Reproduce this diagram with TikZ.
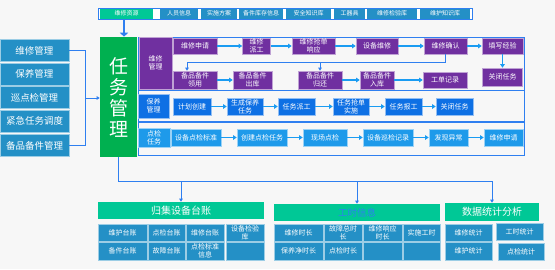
\documentclass[tikz,border=0pt]{standalone}
\usepackage{fontspec}
\setmainfont{Noto Sans CJK SC}
\usetikzlibrary{arrows.meta}

\definecolor{wxpurple}{HTML}{7030A0}
\definecolor{rwgreen}{HTML}{00B050}
\definecolor{hdgreen}{HTML}{00C896}
\definecolor{tzblue}{HTML}{2490C6}
\definecolor{byblue}{HTML}{0E70E4}
\definecolor{djblue}{HTML}{1E9AEA}
\definecolor{lnblue}{HTML}{2F7FF0}
\definecolor{flblue}{HTML}{1A9CF2}
\definecolor{bggray}{HTML}{F7F7F7}

\begin{document}
\begin{tikzpicture}[
    x=1pt, y=-1pt,
    cell/.style={rectangle, inner sep=0pt, align=center, text=white, line width=0.6pt},
    tab/.style={cell, fill=tzblue, minimum height=10pt, font=\fontsize{6}{7}\selectfont},
    sidebox/.style={cell, fill=tzblue, draw=white!55!tzblue, minimum width=69pt, minimum height=22pt, font=\fontsize{9.5}{11}\selectfont},
    mainbox/.style={cell, fill=rwgreen, minimum width=37pt, minimum height=120pt, font=\fontsize{19}{21}\selectfont},
    wxbox/.style={cell, fill=wxpurple, draw=white!55!wxpurple, font=\fontsize{7}{8}\selectfont},
    bybox/.style={cell, fill=byblue, draw=white!55!byblue, minimum height=17pt, font=\fontsize{7}{8}\selectfont},
    djbox/.style={cell, fill=djblue, draw=white!55!djblue, minimum height=17pt, font=\fontsize{7}{8}\selectfont},
    tzbox/.style={cell, fill=tzblue, draw=white!55!tzblue, font=\fontsize{7}{8}\selectfont},
    header/.style={cell, fill=hdgreen, font=\fontsize{10}{11}\selectfont},
    frame/.style={draw=lnblue, line width=0.9pt},
    flow/.style={-{Triangle[length=3.5pt,width=4.5pt]}, line width=1.6pt, draw=flblue},
    link/.style={-{Triangle[length=3pt,width=3.5pt]}, line width=0.8pt, draw=lnblue},
    line/.style={line width=0.8pt, draw=lnblue}
]
    \useasboundingbox[fill=bggray] (0,0) rectangle (555,269);

    % top resource bar
    \draw[frame, fill=white] (98,8) rectangle (472,19);
    \node[tab, fill=hdgreen, minimum width=53pt] (t1) at (126.5,13.5) {维修资源};
    \node[tab, minimum width=38pt] (t2) at (179,13.5) {人员信息};
    \node[tab, minimum width=36pt] (t3) at (219,13.5) {实施方案};
    \node[tab, minimum width=44pt] (t4) at (261,13.5) {备件库存信息};
    \node[tab, minimum width=45pt] (t5) at (308.5,13.5) {安全知识库};
    \node[tab, minimum width=31pt] (t6) at (349.5,13.5) {工器具};
    \node[tab, minimum width=50pt] (t7) at (392,13.5) {维修检验库};
    \node[tab, minimum width=50pt] (t8) at (445,13.5) {维护知识库};

    % left menu
    \node[sidebox] (l1) at (34.5,50.5) {维修管理};
    \node[sidebox] (l2) at (34.5,74) {保养管理};
    \node[sidebox] (l3) at (34.5,97.5) {巡点检管理};
    \node[sidebox] (l4) at (34.5,121) {紧急任务调度};
    \node[sidebox] (l5) at (34.5,145.5) {备品备件管理};

    \node[mainbox] (rw) at (118.5,97) {任\\务\\管\\理};

    % task panel
    \draw[frame] (138,37) rectangle (524,155);
    \draw[frame] (138,90.5) -- (524,90.5);
    \draw[frame, line width=1.5pt] (138,122) -- (524,122);

    % maintenance
    \node[wxbox, minimum width=33pt, minimum height=52pt] (wl) at (155.5,63) {维修\\管理};
    \node[wxbox, minimum width=44pt, minimum height=16pt] (a1) at (195,46) {维修申请};
    \node[wxbox, minimum width=28pt, minimum height=16pt] (a2) at (256.5,46) {维修\\派工};
    \node[wxbox, minimum width=43pt, minimum height=16pt] (a3) at (313.5,46) {维修抢单\\响应};
    \node[wxbox, minimum width=42pt, minimum height=16pt] (a4) at (377,46) {设备维修};
    \node[wxbox, minimum width=43pt, minimum height=16pt] (a5) at (445.5,46) {维修确认};
    \node[wxbox, minimum width=41pt, minimum height=16pt] (a6) at (502.5,46) {填写经验};
    \node[wxbox, minimum width=44pt, minimum height=18pt] (b1) at (195,80) {备品备件\\领用};
    \node[wxbox, minimum width=39pt, minimum height=18pt] (b2) at (252.5,80) {备品备件\\出库};
    \node[wxbox, minimum width=44pt, minimum height=18pt] (b3) at (320,80) {备品备件\\归还};
    \node[wxbox, minimum width=34pt, minimum height=18pt] (b4) at (377,80) {备品备件\\入库};
    \node[wxbox, minimum width=44pt, minimum height=16pt] (b5) at (445,80) {工单记录};
    \node[wxbox, minimum width=40pt, minimum height=18pt] (b6) at (502.5,77) {关闭任务};

    \draw[flow] (a1) -- (a2);
    \draw[flow] (a2) -- (a3);
    \draw[flow] (a3) -- (a4);
    \draw[flow] (a4) -- (a5);
    \draw[flow] (a5) -- (a6);
    \draw[flow] (a6) -- (b6);
    \draw[flow] (b1) -- (b2);
    \draw[flow] (b3) -- (b4);
    \draw[flow] (b4) -- (b5);
    \coordinate (fb) at (187,62);
    \draw[link] (a5.south) |- (fb) -- (fb |- b1.north);
    \draw[link] (b3.north |- fb) -- (b3.north);

    % upkeep
    \node[bybox, minimum width=31pt, minimum height=24pt] (bl) at (153.5,106) {保养\\管理};
    \node[bybox, minimum width=38pt] (c1) at (192,106.5) {计划创建};
    \node[bybox, minimum width=36pt] (c2) at (245,106.5) {生成保养\\任务};
    \node[bybox, minimum width=37pt] (c3) at (296.5,106.5) {任务派工};
    \node[bybox, minimum width=36pt] (c4) at (351,106.5) {任务抢单\\实施};
    \node[bybox, minimum width=37pt] (c5) at (403.5,106.5) {任务报工};
    \node[bybox, minimum width=37pt] (c6) at (454.5,106.5) {关闭任务};

    \draw[flow] (c1) -- (c2);
    \draw[flow] (c2) -- (c3);
    \draw[flow] (c3) -- (c4);
    \draw[flow] (c4) -- (c5);
    \draw[flow] (c5) -- (c6);

    % inspection
    \node[djbox, minimum width=32pt, minimum height=19pt] (dl) at (154,137.5) {点检\\任务};
    \node[djbox, minimum width=50pt] (d1) at (196,137.5) {设备点检标准};
    \node[djbox, minimum width=50pt] (d2) at (262,137.5) {创建点检任务};
    \node[djbox, minimum width=44pt] (d3) at (325,137.5) {现场点检};
    \node[djbox, minimum width=50pt] (d4) at (388,137.5) {设备巡检记录};
    \node[djbox, minimum width=39pt] (d5) at (448.5,137.5) {发现异常};
    \node[djbox, minimum width=39pt] (d6) at (503.5,137.5) {维修申请};

    \draw[flow] (d1) -- (d2);
    \draw[flow] (d2) -- (d3);
    \draw[flow] (d3) -- (d4);
    \draw[flow] (d4) -- (d5);
    \draw[flow] (d5) -- (d6);

    % ledgers
    \node[header, minimum width=166pt, minimum height=17pt] (h1) at (181,210.5) {归集设备台账};
    \node[tzbox, minimum width=49pt, minimum height=17pt] (g11) at (122.5,232.5) {维护台账};
    \node[tzbox, minimum width=37pt, minimum height=17pt] (g12) at (166.5,232.5) {点检台账};
    \node[tzbox, minimum width=38pt, minimum height=17pt] (g13) at (205,232.5) {维修台账};
    \node[tzbox, minimum width=38pt, minimum height=17pt] (g14) at (245,232.5) {设备检验\\库};
    \node[tzbox, minimum width=49pt, minimum height=18pt] (g21) at (122.5,251) {备件台账};
    \node[tzbox, minimum width=37pt, minimum height=18pt] (g22) at (166.5,251) {故障台账};
    \node[tzbox, minimum width=38pt, minimum height=18pt] (g23) at (205,251) {点检标准\\信息};
    \node[tzbox, minimum width=38pt, minimum height=18pt] (g24) at (245,251) {};

    % working hours
    \node[header, text=lnblue, font=\fontsize{9.5}{11}\selectfont, minimum width=166pt, minimum height=17pt] (h2) at (357,212.5) {工时信息};
    \node[tzbox, minimum width=49pt, minimum height=17pt] (k11) at (298.5,232.5) {维修时长};
    \node[tzbox, minimum width=38pt, minimum height=17pt] (k12) at (343,232.5) {故障总时\\长};
    \node[tzbox, minimum width=39pt, minimum height=17pt] (k13) at (382.5,232.5) {维修响应\\时长};
    \node[tzbox, minimum width=37pt, minimum height=17pt] (k14) at (421.5,232.5) {实施工时};
    \node[tzbox, minimum width=49pt, minimum height=18pt] (k21) at (298.5,251) {保养净时长};
    \node[tzbox, minimum width=38pt, minimum height=18pt] (k22) at (343,251) {点检时长};
    \node[tzbox, minimum width=39pt, minimum height=18pt] (k23) at (382.5,251) {};
    \node[tzbox, minimum width=37pt, minimum height=18pt] (k24) at (421.5,251) {};

    % statistics
    \node[header, minimum width=94pt, minimum height=18pt] (h3) at (492,212) {数据统计分析};
    \node[tzbox, minimum width=47pt, minimum height=17pt] (e1) at (468.5,232.5) {维修统计};
    \node[tzbox, minimum width=47pt, minimum height=17pt] (e2) at (519.5,231.5) {工时统计};
    \node[tzbox, minimum width=47pt, minimum height=18pt] (e3) at (468.5,251) {维护统计};
    \node[tzbox, minimum width=46pt, minimum height=17pt] (e4) at (521,251.5) {点检统计};

    % connectors
    \draw[-{Triangle[length=4pt,width=8pt]}, line width=2.5pt, draw=lnblue] ([xshift=-2.5pt]t1.south) -- ([xshift=-2.5pt]t1.south |- rw.north);
    \coordinate (lj) at (85,98);
    \draw[line] (l1.east) -| (lj);
    \draw[line] (l5.east) -| (lj);
    \draw[link] (lj) -- (lj -| rw.west);
    \coordinate (bus) at (118.5,181);
    \draw[line] (rw.south) -- (bus) -- (bus -| h3.north);
    \draw[link] (bus -| h1.north) -- (h1.north);
    \draw[link] (bus -| h2.north) -- (h2.north);
    \draw[link] (bus -| h3.north) -- (h3.north);
\end{tikzpicture}
\end{document}
